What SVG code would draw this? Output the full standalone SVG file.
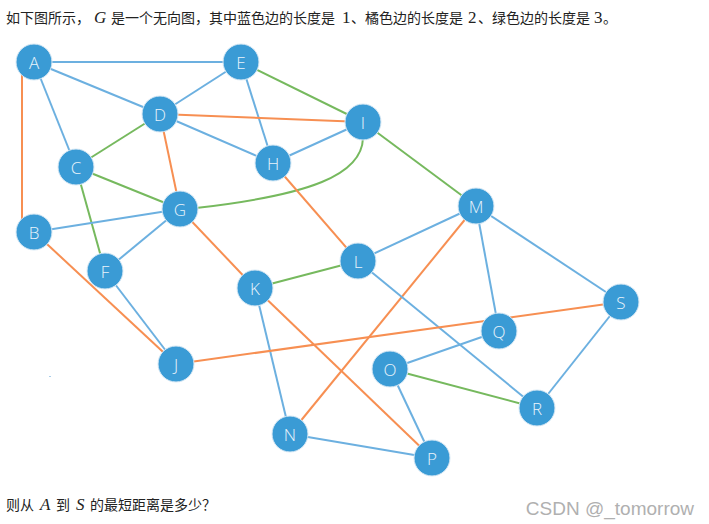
<svg xmlns="http://www.w3.org/2000/svg" width="709" height="524" viewBox="0 0 709 524">
<style>
.b{stroke:#6cb0e0;stroke-width:2;fill:none}
.o{stroke:#f78f52;stroke-width:2;fill:none}
.g{stroke:#76b95e;stroke-width:2;fill:none}
.n circle{fill:#3a9bd5;stroke:#d9e9f5;stroke-width:1}
.n text{fill:#e9f3fb;font-family:"Open Sans","Noto Sans",sans-serif;font-size:17px;font-weight:300;text-anchor:middle;dominant-baseline:central}
.cn{font-family:"Noto Sans CJK SC",sans-serif;font-size:14px;fill:#222}
.m{font-family:"Liberation Serif",serif;font-style:italic;font-size:17px;fill:#222}
.d{font-family:"Liberation Serif",serif;font-size:17px;fill:#222}
</style>
<rect width="709" height="524" fill="#fff"/>
<g id="question-top">
<text class="cn" x="6" y="23">如下图所示，</text>
<text class="m" x="94" y="23">G</text>
<text class="cn" x="111" y="23">是一个无向图，其中蓝色边的长度是</text>
<text class="d" x="342" y="23">1</text>
<text class="cn" x="351" y="23">、橘色边的长度是</text>
<text class="d" x="468" y="23">2</text>
<text class="cn" x="478" y="23">、绿色边的长度是</text>
<text class="d" x="594" y="23">3</text>
<text class="cn" x="603" y="23">。</text>
</g>
<g id="edges">
<line class="b" x1="34" y1="62" x2="241" y2="62"/>
<line class="b" x1="34" y1="62" x2="160" y2="114"/>
<line class="b" x1="34" y1="62" x2="76" y2="167"/>
<line class="o" x1="22" y1="62" x2="22" y2="232"/>
<line class="b" x1="241" y1="62" x2="160" y2="114"/>
<line class="b" x1="241" y1="62" x2="273" y2="163"/>
<line class="g" x1="241" y1="62" x2="363" y2="122"/>
<line class="o" x1="160" y1="114" x2="363" y2="122"/>
<line class="b" x1="160" y1="114" x2="273" y2="163"/>
<line class="g" x1="160" y1="114" x2="76" y2="167"/>
<line class="o" x1="160" y1="114" x2="180" y2="209"/>
<line class="b" x1="363" y1="122" x2="273" y2="163"/>
<line class="g" x1="363" y1="122" x2="476" y2="206"/>
<path class="g" d="M363,138 C362,175 310,195 196,208"/>
<line class="g" x1="76" y1="167" x2="180" y2="209"/>
<line class="g" x1="76" y1="167" x2="105" y2="271"/>
<line class="b" x1="180" y1="209" x2="34" y2="232"/>
<line class="b" x1="180" y1="209" x2="105" y2="271"/>
<line class="o" x1="180" y1="209" x2="255" y2="288"/>
<line class="o" x1="273" y1="163" x2="358" y2="261"/>
<line class="o" x1="34" y1="232" x2="176" y2="364"/>
<line class="b" x1="105" y1="271" x2="176" y2="364"/>
<line class="b" x1="476" y1="206" x2="358" y2="261"/>
<line class="b" x1="476" y1="206" x2="621" y2="302"/>
<line class="b" x1="476" y1="206" x2="499" y2="331"/>
<line class="o" x1="476" y1="206" x2="290" y2="434"/>
<line class="g" x1="358" y1="261" x2="255" y2="288"/>
<line class="b" x1="358" y1="261" x2="537" y2="408"/>
<line class="b" x1="255" y1="288" x2="290" y2="434"/>
<line class="o" x1="255" y1="288" x2="432" y2="458"/>
<line class="o" x1="176" y1="364" x2="621" y2="302"/>
<line class="b" x1="499" y1="331" x2="390" y2="369"/>
<line class="g" x1="390" y1="369" x2="537" y2="408"/>
<line class="b" x1="390" y1="369" x2="432" y2="458"/>
<line class="b" x1="290" y1="434" x2="432" y2="458"/>
<line class="b" x1="621" y1="302" x2="537" y2="408"/>
</g>
<g id="A" class="n"><circle cx="34" cy="62" r="18"/><text x="34" y="62">A</text></g>
<g id="E" class="n"><circle cx="241" cy="62" r="18"/><text x="241" y="62">E</text></g>
<g id="D" class="n"><circle cx="160" cy="114" r="18"/><text x="160" y="114">D</text></g>
<g id="I" class="n"><circle cx="363" cy="122" r="18"/><text x="363" y="122">I</text></g>
<g id="C" class="n"><circle cx="76" cy="167" r="18"/><text x="76" y="167">C</text></g>
<g id="H" class="n"><circle cx="273" cy="163" r="18"/><text x="273" y="163">H</text></g>
<g id="G" class="n"><circle cx="180" cy="209" r="18"/><text x="180" y="209">G</text></g>
<g id="M" class="n"><circle cx="476" cy="206" r="18"/><text x="476" y="206">M</text></g>
<g id="B" class="n"><circle cx="34" cy="232" r="18"/><text x="34" y="232">B</text></g>
<g id="L" class="n"><circle cx="358" cy="261" r="18"/><text x="358" y="261">L</text></g>
<g id="F" class="n"><circle cx="105" cy="271" r="18"/><text x="105" y="271">F</text></g>
<g id="K" class="n"><circle cx="255" cy="288" r="18"/><text x="255" y="288">K</text></g>
<g id="S" class="n"><circle cx="621" cy="302" r="18"/><text x="621" y="302">S</text></g>
<g id="Q" class="n"><circle cx="499" cy="331" r="18"/><text x="499" y="331">Q</text></g>
<g id="J" class="n"><circle cx="176" cy="364" r="18"/><text x="176" y="364">J</text></g>
<g id="O" class="n"><circle cx="390" cy="369" r="18"/><text x="390" y="369">O</text></g>
<g id="R" class="n"><circle cx="537" cy="408" r="18"/><text x="537" y="408">R</text></g>
<g id="N" class="n"><circle cx="290" cy="434" r="18"/><text x="290" y="434">N</text></g>
<g id="P" class="n"><circle cx="432" cy="458" r="18"/><text x="432" y="458">P</text></g>
<rect x="49" y="376" width="2" height="1" fill="#a9cde9"/>
<g id="question-bottom">
<text class="cn" x="6" y="510">则从</text>
<text class="m" x="40" y="510">A</text>
<text class="cn" x="56" y="510">到</text>
<text class="m" x="76" y="510">S</text>
<text class="cn" x="90" y="510">的最短距离是多少？</text>
</g>
<text x="694" y="515" text-anchor="end" font-family="'Liberation Sans',Arial,sans-serif" font-size="19" fill="#b0b0b0">CSDN @_tomorrow</text>
</svg>
